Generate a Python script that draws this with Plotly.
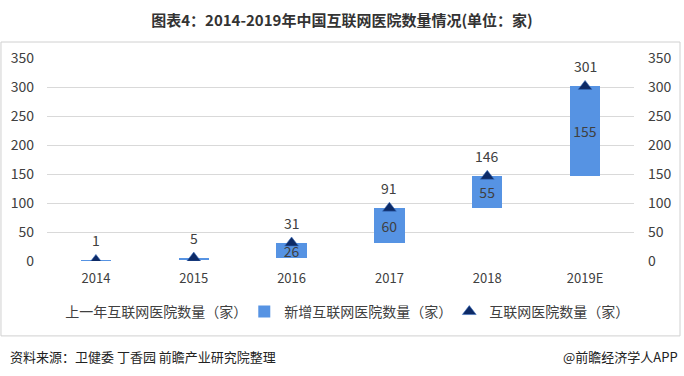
import plotly.graph_objects as go

years = ["2014", "2015", "2016", "2017", "2018", "2019E"]
previous = [0, 1, 5, 31, 91, 146]
added = [1, 4, 26, 60, 55, 155]
total = [1, 5, 31, 91, 146, 301]
added_labels = ["", "", "26", "60", "55", "155"]
yticks = [0, 50, 100, 150, 200, 250, 300, 350]

FONT = "Noto Sans CJK SC"
TXT = "#404040"

xs = list(range(len(years)))

fig = go.Figure()
fig.add_trace(go.Bar(x=xs, y=previous, name="上一年互联网医院数量（家）",
                     marker=dict(color="rgba(255,255,255,0)", opacity=0, line=dict(width=0)),
                     hoverinfo="skip", legendwidth=174))
fig.add_trace(go.Bar(x=xs, y=added, name="新增互联网医院数量（家）",
                     marker=dict(color="#5693E3", line=dict(width=0)),
                     text=added_labels, textposition="inside", insidetextanchor="middle",
                     textfont=dict(size=14, color=TXT, family=FONT), textangle=0,
                     legendwidth=160))
fig.add_trace(go.Scatter(x=xs, y=total, name="互联网医院数量（家）", mode="markers",
                         marker=dict(symbol="triangle-up", size=12, color="#0d2a66",
                                     line=dict(width=0.6, color="#3a6fc0"))))
fig.add_trace(go.Scatter(x=xs, y=total, yaxis="y2", mode="markers",
                         marker=dict(opacity=0), showlegend=False, hoverinfo="skip"))

for xi, v in zip(xs, total):
    fig.add_annotation(x=xi, y=v, text=str(v), showarrow=False, yshift=20,
                       font=dict(size=14, color=TXT, family=FONT))

fig.add_shape(type="rect", xref="paper", yref="paper", x0=-0.0784, x1=1.0784,
              y0=-0.369, y1=1.0788, line=dict(color="#d0d0d0", width=1))

fig.update_layout(
    width=684, height=376,
    margin=dict(l=47, r=50, t=58, b=115),
    paper_bgcolor="white", plot_bgcolor="white",
    barmode="stack", bargap=0.69,
    uniformtext=dict(minsize=14, mode="show"),
    font=dict(family=FONT, color=TXT, size=13),
    title=dict(text="<b>图表4：2014-2019年中国互联网医院数量情况(单位：家)</b>",
               x=0.5, xanchor="center", y=0.944, yanchor="middle",
               font=dict(size=15, color="#333333", family=FONT)),
    showlegend=True,
    legend=dict(orientation="h", x=-0.037, xanchor="left", y=-0.251, yanchor="middle",
                font=dict(size=14, color=TXT, family=FONT), traceorder="normal"),
    xaxis=dict(range=[-0.5, len(years) - 0.5], tickvals=xs, ticktext=years,
               showgrid=False, showline=False, zeroline=False, ticks="",
               tickfont=dict(size=13, color=TXT), ticklabelstandoff=8),
    yaxis=dict(range=[0, 350], tickvals=yticks,
               showgrid=True, gridcolor="#d9d9d9", gridwidth=1, zeroline=False,
               showline=False, ticks="", tickfont=dict(size=14, color=TXT), ticklabelstandoff=12),
    yaxis2=dict(range=[0, 350], tickvals=yticks,
                overlaying="y", side="right", showgrid=False, zeroline=False,
                showline=False, ticks="", tickfont=dict(size=14, color=TXT), ticklabelstandoff=13),
)

fig.add_annotation(xref="paper", yref="paper", x=-0.0664, y=-0.468, xanchor="left", yanchor="middle",
                   text="资料来源：卫健委 丁香园 前瞻产业研究院整理", showarrow=False,
                   font=dict(size=13, color="#222222", family=FONT))
fig.add_annotation(xref="paper", yref="paper", x=1.078, y=-0.468, xanchor="right", yanchor="middle",
                   text="@前瞻经济学人APP", showarrow=False,
                   font=dict(size=13, color="#222222", family=FONT))

fig.write_html("out.html", config={"displayModeBar": False},
               post_script="document.body.style.margin='0';document.body.style.overflow='hidden';")
